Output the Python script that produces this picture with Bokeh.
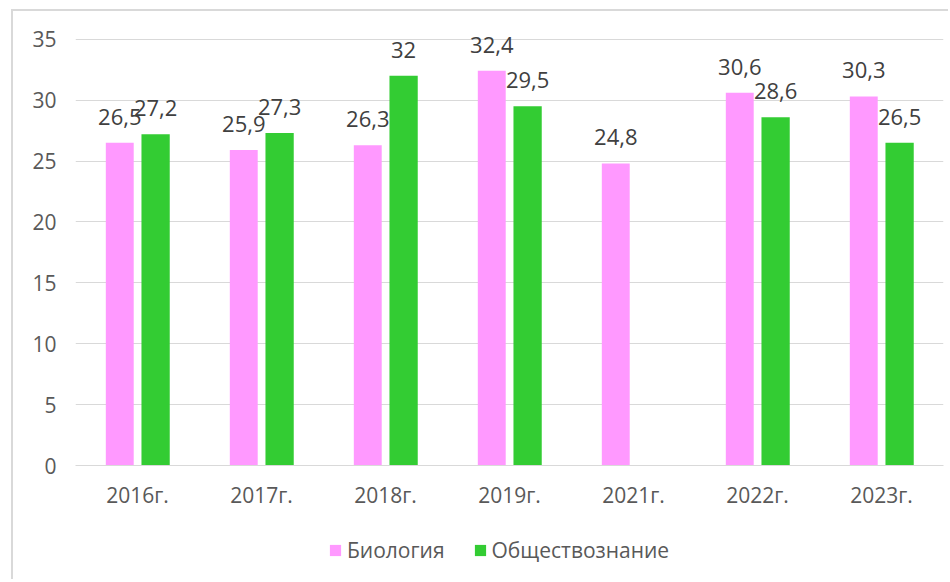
from bokeh.plotting import figure
from bokeh.layouts import column
from bokeh.models import ColumnDataSource, FactorRange, Legend, LegendItem, Range1d, FixedTicker
from bokeh.transform import dodge
from bokeh.core.properties import value
from bokeh.embed import file_html
from bokeh.resources import INLINE

years = ["2016г.", "2017г.", "2018г.", "2019г.", "2021г.", "2022г.", "2023г."]
biology = [26.5, 25.9, 26.3, 32.4, 24.8, 30.6, 30.3]
social = [27.2, 27.3, 32.0, 29.5, None, 28.6, 26.5]
series_names = ["Биология", "Обществознание"]
y_ticks = [0, 5, 10, 15, 20, 25, 30, 35]

PINK = "#FF99FF"
GREEN = "#33CC33"
FONT = "Open Sans"


def fmt(v):
    s = ("%g" % v)
    return s.replace(".", ",")


bio_src = ColumnDataSource(dict(x=years, top=biology, label=[fmt(v) for v in biology]))
soc_years = [y for y, v in zip(years, social) if v is not None]
soc_vals = [v for v in social if v is not None]
soc_src = ColumnDataSource(dict(x=soc_years, top=soc_vals, label=[fmt(v) for v in soc_vals]))

OX, OY = 13, 11
W = 935
H1 = 510
H2 = 58
# frame spans from the chart's top edge down to the zero line; 35 sits at y=38.7 on the page
frame_top_page = OY
zero_page = 465
top35_page = 38.7
y_max = max(y_ticks) * (zero_page - frame_top_page) / (zero_page - top35_page)

p = figure(width=W, height=H1, x_range=FactorRange(*years), y_range=Range1d(0, y_max),
           output_backend="svg", toolbar_location=None,
           min_border_left=75 - OX, min_border_right=W - (943 - OX),
           min_border_top=frame_top_page - OY, min_border_bottom=H1 - (zero_page - OY))
p.outline_line_color = None
p.background_fill_color = "white"
p.border_fill_color = "white"

r1 = p.vbar(x=dodge("x", -0.143, range=p.x_range), top="top", width=0.225, source=bio_src,
            fill_color=PINK, line_color=None)
r2 = p.vbar(x=dodge("x", 0.146, range=p.x_range), top="top", width=0.228, source=soc_src,
            fill_color=GREEN, line_color=None)

p.text(x=dodge("x", -0.143, range=p.x_range), y="top", text="label", source=bio_src,
       text_align="center", text_baseline="alphabetic", y_offset=-26,
       text_font=value(FONT), text_font_size="22px", text_color="#404040")
p.text(x=dodge("x", 0.146, range=p.x_range), y="top", text="label", source=soc_src,
       text_align="center", text_baseline="alphabetic", y_offset=-26,
       text_font=value(FONT), text_font_size="22px", text_color="#404040")

# axes
p.yaxis.ticker = FixedTicker(ticks=y_ticks)
p.yaxis.axis_line_color = None
p.yaxis.major_tick_line_color = None
p.yaxis.minor_tick_line_color = None
p.yaxis.major_label_text_font = FONT
p.yaxis.major_label_text_font_size = "21px"
p.yaxis.major_label_text_color = "#595959"
p.yaxis.major_label_standoff = 13

p.xaxis.axis_line_color = "#d9d9d9"
p.xaxis.axis_line_width = 1
p.xaxis.major_tick_line_color = None
p.xaxis.minor_tick_line_color = None
p.xaxis.major_label_text_font = FONT
p.xaxis.major_label_text_font_size = "21px"
p.xaxis.major_label_text_color = "#595959"
p.xaxis.major_label_standoff = 9

p.xgrid.grid_line_color = None
p.ygrid.grid_line_color = "#d9d9d9"
p.ygrid.grid_line_width = 1

# legend in its own small figure below the chart (its bars have zero width and fall outside its y range)
lf = figure(width=W, height=H2, output_backend="svg", toolbar_location=None,
            min_border=0, x_range=FactorRange(*years), y_range=Range1d(-2, -1),
            x_axis_location=None, y_axis_location=None)
lf.grid.visible = False
lf.outline_line_color = None
lf.border_fill_color = "white"
lf.background_fill_color = "white"
l1 = lf.vbar(x="x", top="top", width=0, source=bio_src, fill_color=PINK, line_color=None)
l2 = lf.vbar(x="x", top="top", width=0, source=soc_src, fill_color=GREEN, line_color=None)

legend = Legend(items=[LegendItem(label=series_names[0], renderers=[l1]),
                       LegendItem(label=series_names[1], renderers=[l2])],
                orientation="horizontal", location="left")
legend.label_text_font = FONT
legend.label_text_font_size = "21px"
legend.label_text_color = "#595959"
legend.glyph_width = 14
legend.glyph_height = 14
legend.label_standoff = 5
legend.spacing = 28
legend.border_line_color = None
legend.background_fill_alpha = 0
legend.margin = 253
legend.padding = 0
lf.add_layout(legend, "center")

layout = column(p, lf, spacing=0)
layout.styles = {"border-left": "2px solid #d9d9d9", "border-top": "2px solid #d9d9d9",
                 "margin-left": "%dpx" % (OX - 2), "margin-top": "%dpx" % (OY - 2)}

open("out.html", "w").write(file_html(layout, INLINE))
